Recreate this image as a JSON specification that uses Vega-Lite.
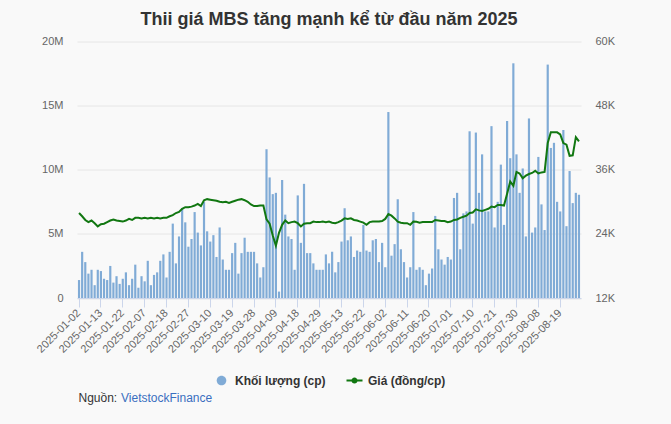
{
"$schema": "https://vega.github.io/schema/vega-lite/v6.json",
"width": 504, "height": 256.5,
"autosize": {"type": "none"},
"padding": {"left": 77, "top": 41.5, "right": 90, "bottom": 126},
"background": "#f9f9f9",
"title": {"text": "Thii giá MBS tăng mạnh kể từ đầu năm 2025", "fontSize": 18, "font": "Liberation Sans", "fontWeight": "bold", "color": "#333333", "anchor": "middle", "offset": 7},
"data": {"values": [
{"d":"2025-01-02","vol":1400000,"price":27900},
{"d":"2025-01-03","vol":3600000,"price":27300},
{"d":"2025-01-06","vol":2800000,"price":26600},
{"d":"2025-01-07","vol":1900000,"price":26200},
{"d":"2025-01-08","vol":2200000,"price":26500},
{"d":"2025-01-09","vol":1000000,"price":26000},
{"d":"2025-01-10","vol":2200000,"price":25400},
{"d":"2025-01-13","vol":2100000,"price":25800},
{"d":"2025-01-14","vol":1500000,"price":25900},
{"d":"2025-01-15","vol":1400000,"price":26200},
{"d":"2025-01-16","vol":2500000,"price":26500},
{"d":"2025-01-17","vol":1200000,"price":26700},
{"d":"2025-01-20","vol":1700000,"price":26500},
{"d":"2025-01-21","vol":1100000,"price":26400},
{"d":"2025-01-22","vol":1500000,"price":26300},
{"d":"2025-01-23","vol":2000000,"price":26500},
{"d":"2025-01-24","vol":1000000,"price":26800},
{"d":"2025-02-03","vol":1500000,"price":26600},
{"d":"2025-02-04","vol":2600000,"price":27000},
{"d":"2025-02-05","vol":800000,"price":27000},
{"d":"2025-02-06","vol":1700000,"price":26900},
{"d":"2025-02-07","vol":1300000,"price":27000},
{"d":"2025-02-10","vol":2900000,"price":26900},
{"d":"2025-02-11","vol":1000000,"price":27000},
{"d":"2025-02-12","vol":1800000,"price":26900},
{"d":"2025-02-13","vol":2000000,"price":27000},
{"d":"2025-02-14","vol":2900000,"price":26900},
{"d":"2025-02-17","vol":3400000,"price":27000},
{"d":"2025-02-18","vol":1600000,"price":27000},
{"d":"2025-02-19","vol":3600000,"price":27300},
{"d":"2025-02-20","vol":5800000,"price":27500},
{"d":"2025-02-21","vol":2700000,"price":27900},
{"d":"2025-02-24","vol":4800000,"price":28100},
{"d":"2025-02-25","vol":7000000,"price":28700},
{"d":"2025-02-26","vol":5900000,"price":29000},
{"d":"2025-02-27","vol":4000000,"price":29000},
{"d":"2025-02-28","vol":4600000,"price":29100},
{"d":"2025-03-03","vol":6700000,"price":29300},
{"d":"2025-03-04","vol":5100000,"price":29600},
{"d":"2025-03-05","vol":4100000,"price":29200},
{"d":"2025-03-06","vol":7500000,"price":30300},
{"d":"2025-03-07","vol":5200000,"price":30500},
{"d":"2025-03-10","vol":4400000,"price":30400},
{"d":"2025-03-11","vol":4900000,"price":30300},
{"d":"2025-03-12","vol":3200000,"price":30200},
{"d":"2025-03-13","vol":5500000,"price":30000},
{"d":"2025-03-14","vol":3000000,"price":29900},
{"d":"2025-03-17","vol":2200000,"price":30000},
{"d":"2025-03-18","vol":2200000,"price":29800},
{"d":"2025-03-19","vol":3500000,"price":30000},
{"d":"2025-03-20","vol":4300000,"price":30200},
{"d":"2025-03-21","vol":1900000,"price":30400},
{"d":"2025-03-24","vol":3500000,"price":30500},
{"d":"2025-03-25","vol":4700000,"price":30300},
{"d":"2025-03-26","vol":3600000,"price":30000},
{"d":"2025-03-27","vol":3600000,"price":29500},
{"d":"2025-03-28","vol":3600000,"price":29200},
{"d":"2025-03-31","vol":2700000,"price":29200},
{"d":"2025-04-01","vol":1600000,"price":29300},
{"d":"2025-04-02","vol":2400000,"price":29300},
{"d":"2025-04-03","vol":11600000,"price":26700},
{"d":"2025-04-04","vol":9400000,"price":25900},
{"d":"2025-04-08","vol":8100000,"price":23700},
{"d":"2025-04-09","vol":8200000,"price":21800},
{"d":"2025-04-10","vol":500000,"price":24200},
{"d":"2025-04-11","vol":9200000,"price":25700},
{"d":"2025-04-14","vol":6500000,"price":26500},
{"d":"2025-04-15","vol":4800000,"price":26000},
{"d":"2025-04-16","vol":4600000,"price":26200},
{"d":"2025-04-17","vol":2200000,"price":26300},
{"d":"2025-04-18","vol":8000000,"price":26000},
{"d":"2025-04-21","vol":4300000,"price":25400},
{"d":"2025-04-22","vol":8900000,"price":25900},
{"d":"2025-04-23","vol":3500000,"price":26000},
{"d":"2025-04-24","vol":3500000,"price":26000},
{"d":"2025-04-25","vol":2700000,"price":26300},
{"d":"2025-04-28","vol":2200000,"price":26200},
{"d":"2025-04-29","vol":2200000,"price":26200},
{"d":"2025-05-05","vol":2200000,"price":26300},
{"d":"2025-05-06","vol":3400000,"price":26200},
{"d":"2025-05-07","vol":2700000,"price":26300},
{"d":"2025-05-08","vol":3600000,"price":26100},
{"d":"2025-05-09","vol":2000000,"price":26000},
{"d":"2025-05-12","vol":2800000,"price":26200},
{"d":"2025-05-13","vol":4400000,"price":26500},
{"d":"2025-05-14","vol":7000000,"price":26900},
{"d":"2025-05-15","vol":4500000,"price":26800},
{"d":"2025-05-16","vol":4800000,"price":26900},
{"d":"2025-05-19","vol":3200000,"price":26600},
{"d":"2025-05-20","vol":3700000,"price":26500},
{"d":"2025-05-21","vol":3600000,"price":26300},
{"d":"2025-05-22","vol":5700000,"price":26100},
{"d":"2025-05-23","vol":3700000,"price":25700},
{"d":"2025-05-26","vol":3600000,"price":26200},
{"d":"2025-05-27","vol":4500000,"price":26300},
{"d":"2025-05-28","vol":4600000,"price":26300},
{"d":"2025-05-29","vol":2800000,"price":26300},
{"d":"2025-05-30","vol":4300000,"price":26400},
{"d":"2025-06-02","vol":2400000,"price":26800},
{"d":"2025-06-03","vol":14500000,"price":27700},
{"d":"2025-06-04","vol":3300000,"price":27400},
{"d":"2025-06-05","vol":4200000,"price":26900},
{"d":"2025-06-06","vol":7700000,"price":26300},
{"d":"2025-06-09","vol":3800000,"price":26100},
{"d":"2025-06-10","vol":2800000,"price":26000},
{"d":"2025-06-11","vol":1600000,"price":26000},
{"d":"2025-06-12","vol":2400000,"price":25700},
{"d":"2025-06-13","vol":6700000,"price":26300},
{"d":"2025-06-16","vol":2200000,"price":26250},
{"d":"2025-06-17","vol":2400000,"price":26100},
{"d":"2025-06-18","vol":2200000,"price":26200},
{"d":"2025-06-19","vol":1000000,"price":26200},
{"d":"2025-06-20","vol":1900000,"price":26200},
{"d":"2025-06-23","vol":2300000,"price":26200},
{"d":"2025-06-24","vol":6400000,"price":26600},
{"d":"2025-06-25","vol":3800000,"price":26500},
{"d":"2025-06-26","vol":3000000,"price":26400},
{"d":"2025-06-27","vol":2600000,"price":26400},
{"d":"2025-06-30","vol":3200000,"price":26200},
{"d":"2025-07-01","vol":3000000,"price":26300},
{"d":"2025-07-02","vol":7800000,"price":26600},
{"d":"2025-07-03","vol":8200000,"price":26700},
{"d":"2025-07-04","vol":3800000,"price":27000},
{"d":"2025-07-07","vol":6600000,"price":27200},
{"d":"2025-07-08","vol":6750000,"price":27400},
{"d":"2025-07-09","vol":13000000,"price":27900},
{"d":"2025-07-10","vol":5800000,"price":28000},
{"d":"2025-07-11","vol":12900000,"price":28600},
{"d":"2025-07-14","vol":8200000,"price":28400},
{"d":"2025-07-15","vol":11200000,"price":28300},
{"d":"2025-07-16","vol":6750000,"price":28500},
{"d":"2025-07-17","vol":6750000,"price":28700},
{"d":"2025-07-18","vol":13400000,"price":29100},
{"d":"2025-07-21","vol":5500000,"price":29000},
{"d":"2025-07-22","vol":7500000,"price":29400},
{"d":"2025-07-23","vol":10400000,"price":29400},
{"d":"2025-07-24","vol":5700000,"price":29300},
{"d":"2025-07-25","vol":13800000,"price":31500},
{"d":"2025-07-28","vol":10900000,"price":33800},
{"d":"2025-07-29","vol":18300000,"price":33000},
{"d":"2025-07-30","vol":11200000,"price":35600},
{"d":"2025-07-31","vol":8200000,"price":35300},
{"d":"2025-08-01","vol":10100000,"price":34400},
{"d":"2025-08-04","vol":4800000,"price":34900},
{"d":"2025-08-05","vol":14000000,"price":35200},
{"d":"2025-08-06","vol":5100000,"price":35400},
{"d":"2025-08-07","vol":5500000,"price":35800},
{"d":"2025-08-08","vol":11000000,"price":35300},
{"d":"2025-08-11","vol":7300000,"price":35500},
{"d":"2025-08-12","vol":5300000,"price":35600},
{"d":"2025-08-13","vol":18200000,"price":41000},
{"d":"2025-08-14","vol":11700000,"price":43000},
{"d":"2025-08-15","vol":12100000,"price":43000},
{"d":"2025-08-18","vol":7500000,"price":43000},
{"d":"2025-08-19","vol":6750000,"price":42600},
{"d":"2025-08-20","vol":13100000,"price":41000},
{"d":"2025-08-21","vol":5600000,"price":40700},
{"d":"2025-08-22","vol":9900000,"price":38600},
{"d":"2025-08-25","vol":7400000,"price":38700},
{"d":"2025-08-26","vol":8200000,"price":42100},
{"d":"2025-08-27","vol":8050000,"price":41300}
]},
"encoding": {
  "x": {"field": "d", "type": "ordinal", "sort": null,
    "scale": {"type": "band", "paddingInner": 0.3, "paddingOuter": 0.3},
    "axis": {
      "values": ["2025-01-02","2025-01-13","2025-01-22","2025-02-07","2025-02-18","2025-02-27","2025-03-10","2025-03-19","2025-03-28","2025-04-09","2025-04-18","2025-04-29","2025-05-13","2025-05-22","2025-06-02","2025-06-11","2025-06-20","2025-07-01","2025-07-10","2025-07-21","2025-07-30","2025-08-08","2025-08-19"],
      "labelAngle": -45, "labelAlign": "right", "labelBaseline": "middle",
      "labelFontSize": 11, "labelColor": "#666666", "labelFont": "Liberation Sans",
      "labelPadding": 4, "labelOverlap": false, "labelBound": false,
      "tickSize": 9, "tickColor": "#ccd6eb", "domainColor": "#ccd6eb", "grid": false,
      "title": "Nguồn:", "titleX": 1, "titleY": 103, "titleAlign": "left", "titleBaseline": "alphabetic",
      "titleFont": "Liberation Sans", "titleFontSize": 12, "titleFontWeight": "normal", "titleColor": "#333333"
    }
  }
},
"layer": [
  {
    "mark": {"type": "bar"},
    "encoding": {
      "y": {"field": "vol", "type": "quantitative",
        "scale": {"domain": [0, 20000000], "nice": false},
        "axis": {"orient": "left", "values": [0, 5000000, 10000000, 15000000, 20000000],
          "labelExpr": "datum.value === 0 ? '0' : (datum.value/1000000) + 'M'",
          "domain": false, "ticks": false, "grid": true, "gridColor": "#e6e6e6",
          "labelPadding": 14, "labelFontSize": 11, "labelColor": "#666666", "labelFont": "Liberation Sans",
          "title": "VietstockFinance", "titleAngle": 0, "titleX": 43.5, "titleY": 360,
          "titleAlign": "left", "titleBaseline": "alphabetic", "titleColor": "#3a6fc0",
          "titleFont": "Liberation Sans", "titleFontWeight": "normal", "titleFontSize": 12}
      },
      "color": {"datum": "Khối lượng (cp)", "type": "nominal",
        "scale": {"domain": ["Khối lượng (cp)", "Giá (đồng/cp)"], "range": ["#80abd6", "#117711"]},
        "legend": {"orient": "none", "legendX": 136.5, "legendY": 331, "direction": "horizontal",
          "title": null, "symbolSize": 256, "labelFont": "Liberation Sans", "labelFontSize": 12,
          "labelFontWeight": "bold", "labelColor": "#333333", "labelOffset": 5.5, "columnPadding": 20, "padding": 0,
          "encode": {"symbols": {"update": {
            "shape": {"signal": "datum.value === 'Giá (đồng/cp)' ? 'M-1,-0.12H1V0.12H-1Z M0.38,0A0.38,0.38 0 1,1 -0.38,0A0.38,0.38 0 1,1 0.38,0Z' : 'M0.6,0A0.6,0.6 0 1,1 -0.6,0A0.6,0.6 0 1,1 0.6,0Z'"},
            "fill": {"signal": "datum.value === 'Giá (đồng/cp)' ? '#117711' : '#80abd6'"},
            "stroke": {"value": "transparent"}, "strokeWidth": {"value": 0},
            "opacity": {"value": 1}, "fillOpacity": {"value": 1}
          }}}
        }
      }
    }
  },
  {
    "mark": {"type": "line", "strokeWidth": 2},
    "encoding": {
      "y": {"field": "price", "type": "quantitative",
        "scale": {"domain": [12000, 60000], "nice": false, "zero": false},
        "axis": {"orient": "right", "values": [12000, 24000, 36000, 48000, 60000],
          "labelExpr": "(datum.value/1000) + 'K'",
          "domain": false, "ticks": false, "grid": false,
          "labelPadding": 14, "labelFontSize": 11, "labelColor": "#666666", "labelFont": "Liberation Sans",
          "title": null}
      },
      "color": {"datum": "Giá (đồng/cp)", "type": "nominal"}
    }
  }
],
"resolve": {"scale": {"y": "independent"}},
"config": {"view": {"stroke": null}}
}
